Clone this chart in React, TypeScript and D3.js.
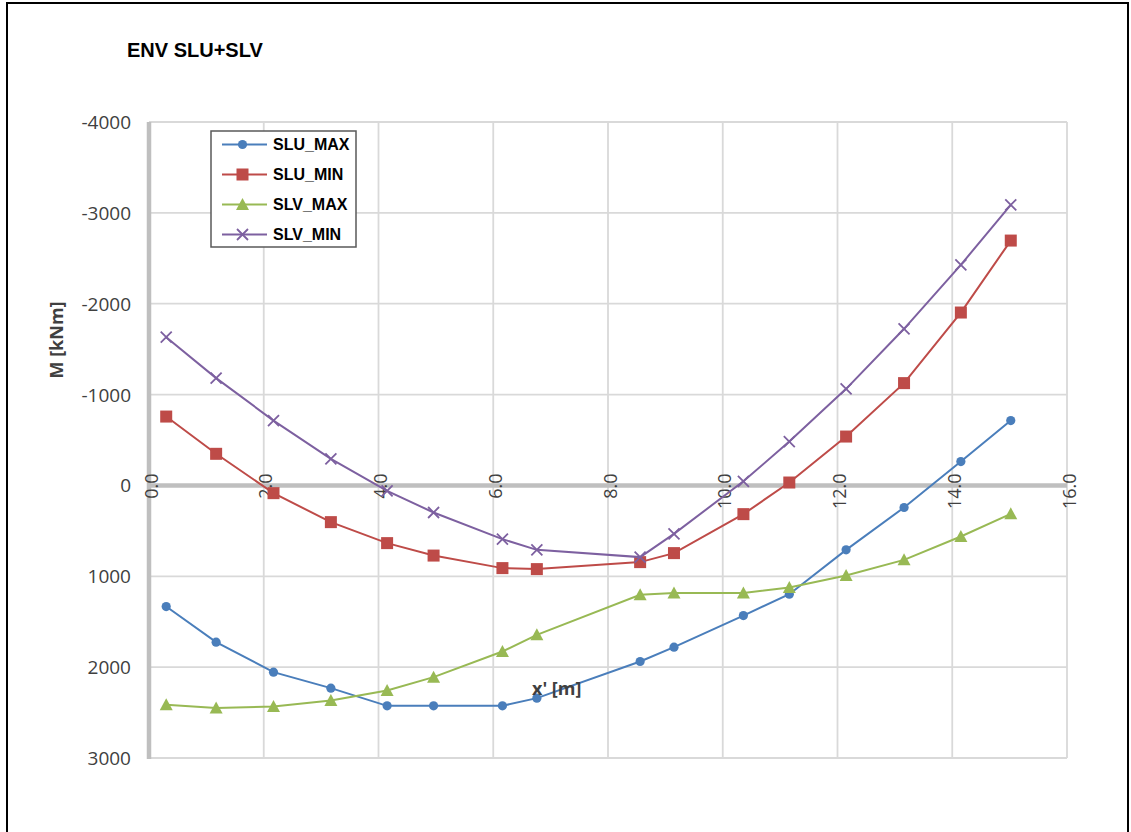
import React from 'react';
import * as d3 from 'd3';

// x' positions [m]
const xValues = [0.3, 1.17, 2.17, 3.17, 4.15, 4.96, 6.16, 6.76, 8.56, 9.15, 10.36, 11.16, 12.15, 13.16, 14.15, 15.02];

// Moments [kNm]
const sluMax = [1333, 1725, 2055, 2231, 2426, 2426, 2426, 2341, 1938, 1780, 1432, 1197, 709, 243, -263, -714];
const sluMin = [-758, -348, 85, 404, 635, 772, 910, 921, 844, 745, 316, -32, -538, -1126, -1903, -2695];
const slvMax = [2414, 2451, 2433, 2367, 2257, 2110, 1828, 1644, 1204, 1185, 1185, 1124, 992, 819, 562, 313];
const slvMin = [-1632, -1181, -714, -293, 59, 298, 591, 709, 789, 533, -45, -483, -1063, -1724, -2428, -3088];

const seriesNames = ['SLU_MAX', 'SLU_MIN', 'SLV_MAX', 'SLV_MIN'];
const seriesColors = ['#4A7EBB', '#BE4B48', '#98B954', '#7D60A0'];
const seriesMarkers = ['circle', 'square', 'triangle', 'x'];

const xTicks = [0, 2, 4, 6, 8, 10, 12, 14, 16];
const yTicks = [-4000, -3000, -2000, -1000, 0, 1000, 2000, 3000];

const title = 'ENV SLU+SLV';
const yTitle = 'M [kNm]';
const xTitle = "x' [m]";

function Marker({ type, cx, cy, color }: { type: string; cx: number; cy: number; color: string }) {
  if (type === 'circle') return <circle cx={cx} cy={cy} r={4.6} fill={color} />;
  if (type === 'square') return <rect x={cx - 6} y={cy - 6} width={12} height={12} fill={color} />;
  if (type === 'triangle')
    return <path d={`M${cx},${cy - 6.5}L${cx + 6.5},${cy + 5.5}L${cx - 6.5},${cy + 5.5}Z`} fill={color} />;
  return (
    <path
      d={`M${cx - 5.5},${cy - 5.5}L${cx + 5.5},${cy + 5.5}M${cx - 5.5},${cy + 5.5}L${cx + 5.5},${cy - 5.5}`}
      stroke={color}
      strokeWidth={1.8}
      fill="none"
    />
  );
}

export default function App() {
  const W = 1131;
  const H = 832;
  const x = d3.scaleLinear().domain([0, 16]).range([149, 1067]);
  const y = d3.scaleLinear().domain([-4000, 3000]).range([122, 758]);
  const data = [sluMax, sluMin, slvMax, slvMin];
  const line = d3
    .line<number>()
    .x((_, i) => x(xValues[i]))
    .y((d) => y(d));
  const fmtX = d3.format('.1f');
  const tickFont = "'Open Sans', sans-serif";

  const legendX = 211;
  const legendY = 131;
  const legendRows = [144.5, 174.5, 204.5, 234.5];

  return (
    <svg
      width={W}
      height={H}
      style={{ position: 'absolute', left: 0, top: 0, display: 'block', background: '#fff' }}
    >
      <rect x={0} y={0} width={W} height={H} fill="#fff" />
      <rect x={7} y={3} width={1121} height={860} fill="none" stroke="#000" strokeWidth={2} />

      <text x={127} y={57} fontFamily="'Liberation Sans', Arial, sans-serif" fontWeight="bold" fontSize={20} fill="#000">
        {title}
      </text>

      {/* gridlines */}
      {xTicks.map((t) => (
        <line key={'gx' + t} x1={x(t)} x2={x(t)} y1={y(-4000)} y2={y(3000)} stroke="#D9D9D9" strokeWidth={1.8} />
      ))}
      {yTicks.map((t) => (
        <line key={'gy' + t} x1={x(0)} x2={x(16)} y1={y(t)} y2={y(t)} stroke="#D9D9D9" strokeWidth={1.8} />
      ))}

      {/* axes */}
      <line x1={x(0)} x2={x(0)} y1={y(-4000)} y2={y(3000) + 1} stroke="#BFBFBF" strokeWidth={4.5} />
      <line x1={x(0)} x2={x(16)} y1={y(0)} y2={y(0)} stroke="#BFBFBF" strokeWidth={4.5} />

      {/* y tick labels */}
      {yTicks.map((t) => (
        <text
          key={'yl' + t}
          x={131}
          y={y(t)}
          textAnchor="end"
          dominantBaseline="central"
          fontFamily={tickFont}
          fontSize={19}
          fill="#404040"
        >
          {t}
        </text>
      ))}

      {/* x tick labels (rotated, above zero line) */}
      {xTicks.map((t) => (
        <text
          key={'xl' + t}
          transform={`translate(${x(t) + 1.5},${y(0) - 12}) rotate(-90)`}
          textAnchor="end"
          dominantBaseline="central"
          fontFamily={tickFont}
          fontSize={18}
          fill="#404040"
        >
          {fmtX(t)}
        </text>
      ))}

      {/* y axis title */}
      <text
        transform={`translate(63,340) rotate(-90)`}
        textAnchor="middle"
        fontFamily={tickFont}
        fontWeight="bold"
        fontSize={18}
        fill="#404040"
      >
        {yTitle}
      </text>

      {/* series */}
      {data.map((s, si) => (
        <g key={'s' + si}>
          <path d={line(s) || ''} fill="none" stroke={seriesColors[si]} strokeWidth={2} />
          {s.map((v, i) => (
            <Marker key={i} type={seriesMarkers[si]} cx={x(xValues[i])} cy={y(v)} color={seriesColors[si]} />
          ))}
        </g>
      ))}

      {/* x axis title */}
      <text x={532} y={695} fontFamily={tickFont} fontWeight="bold" fontSize={18} fill="#404040">
        {xTitle}
      </text>

      {/* legend */}
      <rect x={legendX} y={legendY} width={145} height={116} fill="#fff" stroke="#595959" strokeWidth={1.5} />
      {seriesNames.map((n, i) => (
        <g key={'lg' + i}>
          <line x1={222} x2={267} y1={legendRows[i]} y2={legendRows[i]} stroke={seriesColors[i]} strokeWidth={2} />
          <Marker type={seriesMarkers[i]} cx={242.5} cy={legendRows[i]} color={seriesColors[i]} />
          <text
            x={273}
            y={legendRows[i]}
            dominantBaseline="central"
            fontFamily="'Liberation Sans', Arial, sans-serif"
            fontWeight="bold"
            fontSize={16}
            fill="#000"
          >
            {n}
          </text>
        </g>
      ))}
    </svg>
  );
}
